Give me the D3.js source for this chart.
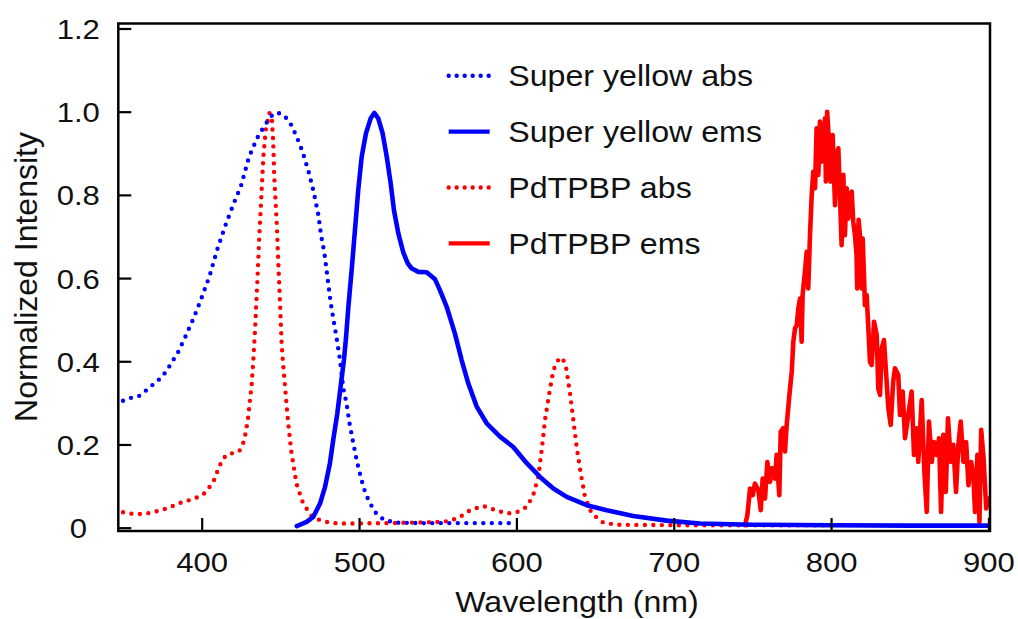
<!DOCTYPE html>
<html>
<head>
<meta charset="utf-8">
<script src="https://d3js.org/d3.v7.min.js"></script>
<style>
  body { margin: 0; background: #fff; }
  text { font-family: "Liberation Sans", Arial, sans-serif; fill: #111; }
</style>
</head>
<body>
<div id="chart"></div>
<script>
// ---- data: [wavelength nm, normalized intensity] ----
var syAbs = [[350,0.305],[355,0.312],[360,0.316],[365,0.331],[370,0.347],[375,0.363],[380,0.391],
  [385,0.422],[390,0.462],[395,0.505],[400,0.553],[405,0.605],[410,0.670],[415,0.726],[420,0.776],
  [425,0.822],[430,0.890],[435,0.935],[440,0.967],[445,0.993],[448,0.998],[452,0.992],[456,0.975],
  [460,0.943],[464,0.905],[468,0.855],[471,0.810],[474,0.755],[476,0.700],[478,0.660],[480,0.600],
  [482,0.540],[484,0.495],[486,0.450],[488,0.400],[490,0.335],[492,0.300],[494,0.250],[496,0.210],
  [498.5,0.162],[500.5,0.131],[503,0.095],[506,0.066],[510,0.038],[516,0.018],[525,0.012],
  [540,0.011],[560,0.011],[580,0.011],[598,0.011]];

var syEms = [[460.4,0.004],[463,0.008],[466.7,0.014],[470.9,0.026],[475.2,0.058],[478.4,0.098],
  [481.5,0.155],[483.6,0.211],[486.2,0.275],[488.3,0.339],[490.4,0.403],[491.8,0.460],[493.2,0.530],
  [495.3,0.619],[497.4,0.715],[499.5,0.812],[501.7,0.892],[504.4,0.948],[507.4,0.984],[509.7,0.997],
  [512.2,0.984],[515,0.948],[517.6,0.892],[520.1,0.828],[522.2,0.763],[525,0.707],[528.1,0.662],
  [531,0.635],[533.5,0.623],[537.7,0.615],[543,0.614],[548.3,0.597],[551.4,0.571],[555.7,0.531],
  [560.9,0.467],[565.2,0.403],[569.4,0.347],[574.8,0.291],[581.1,0.251],[589.6,0.219],[598,0.194],
  [606.6,0.155],[615,0.122],[623.5,0.094],[632,0.074],[644.7,0.054],[657.4,0.042],[674.3,0.028],
  [695.5,0.017],[716.7,0.010],[750,0.007],[800,0.006],[850,0.005],[900,0.005]];

var pdAbs = [[350,0.037],[356.5,0.033],[360.8,0.033],[365,0.034],[369.7,0.038],[374.6,0.042],
  [378.8,0.048],[383,0.054],[387.3,0.061],[392.1,0.066],[396.4,0.072],[400.6,0.078],[404.2,0.094],
  [407.4,0.110],[409.5,0.131],[412.7,0.160],[415.9,0.176],[419.7,0.179],[423.9,0.184],[426.1,0.200],
  [427.5,0.219],[428.6,0.243],[429.6,0.267],[430.7,0.307],[431.8,0.345],[432.8,0.403],[433.9,0.475],
  [435.3,0.587],[436.6,0.699],[437.9,0.795],[439.2,0.892],[440.7,0.956],[443,0.997],[444.5,0.988],
  [445.5,0.924],[446.1,0.844],[447.7,0.731],[448.7,0.635],[449.8,0.539],[450.8,0.443],[451.6,0.400],
  [452.8,0.347],[454.5,0.270],[456.8,0.187],[460.2,0.106],[464.5,0.058],[469.9,0.028],[476.3,0.016],
  [483.6,0.011],[492,0.010],[520,0.011],[553.6,0.014],[558.9,0.018],[564.2,0.026],[571,0.043],
  [579,0.052],[585.3,0.044],[593.8,0.034],[600.2,0.037],[606.6,0.050],[610.7,0.078],[613.9,0.122],
  [616.1,0.187],[618.2,0.259],[620.9,0.323],[623.5,0.379],[626.6,0.403],[629.2,0.409],[631.5,0.387],
  [634.1,0.323],[636.2,0.259],[638.3,0.194],[640.9,0.131],[643.6,0.074],[647.9,0.034],[655.3,0.012],
  [663.8,0.007],[700,0.006],[750,0.006],[800,0.006]];

var pdEms = [[745.3,0.006],[746.8,0.030],[748.5,0.094],[750.2,0.078],[751.6,0.106],[753.8,0.090],
  [755.3,0.042],[756.5,0.118],[758,0.070],[759.5,0.158],[761.2,0.110],[762.6,0.143],[764.4,0.118],
  [765.4,0.175],[767.1,0.078],[768,0.231],[769.6,0.239],[770.7,0.183],[771.8,0.247],[773.5,0.319],
  [775,0.375],[776,0.447],[777.1,0.479],[778.2,0.487],[779.2,0.527],[780.3,0.551],[781.3,0.447],
  [781.9,0.559],[783.4,0.615],[784.5,0.663],[785.5,0.575],[786.6,0.703],[787.7,0.800],[788.7,0.856],
  [789.8,0.816],[790.8,0.960],[791.9,0.848],[792.9,0.976],[794,0.880],[795,0.920],[796.1,0.984],
  [796.7,0.832],[797.5,1.000],[798.8,0.920],[799.7,0.832],[801,0.944],[802.5,0.775],[803.5,0.896],
  [804.6,0.912],[805.7,0.792],[806.7,0.679],[807.8,0.848],[808.8,0.703],[809.9,0.816],[810.9,0.743],
  [812,0.800],[813.1,0.808],[814.1,0.735],[815.2,0.703],[816.2,0.655],[816.6,0.575],[817.5,0.740],
  [818.4,0.700],[819.5,0.575],[820.1,0.695],[820.9,0.607],[821.5,0.535],[822.6,0.559],[823.7,0.479],
  [824.7,0.399],[825.8,0.391],[827.3,0.495],[829,0.463],[830,0.335],[831.1,0.319],[832.2,0.431],
  [833.6,0.451],[834.9,0.375],[836.4,0.287],[837.9,0.247],[839.5,0.351],[840.6,0.383],[842.7,0.367],
  [843.8,0.271],[845.5,0.327],[847,0.215],[849.1,0.271],[851.2,0.327],[852.7,0.175],[854.4,0.239],
  [855.4,0.158],[857.6,0.307],[859.3,0.134],[860.8,0.038],[862.2,0.255],[864,0.158],[865.4,0.206],
  [867.1,0.175],[868.6,0.215],[869.9,0.038],[871.3,0.223],[872.9,0.086],[874.3,0.263],[876.1,0.158],
  [877.7,0.199],[879.4,0.086],[880.9,0.199],[882.4,0.255],[884.1,0.158],[885.8,0.206],[887.3,0.102],
  [889,0.158],[890.4,0.126],[891.5,0.038],[893,0.175],[894.3,0.014],[895.4,0.235],[896.9,0.167],
  [898.6,0.046],[900.1,0.070]];

var xTicks = [400, 500, 600, 700, 800, 900];
var yTicks = [0, 0.2, 0.4, 0.6, 0.8, 1.0, 1.2];
var seriesNames = ["Super yellow abs", "Super yellow ems", "PdTPBP abs", "PdTPBP ems"];

// ---- layout ----
var W = 1018, H = 619;
var margin = {top: 23.5, right: 28, bottom: 88, left: 118.3},
    width = 990 - margin.left,
    height = 531 - margin.top;

var svg = d3.select("#chart").append("svg")
    .attr("width", W).attr("height", H)
  .append("g")
    .attr("transform", "translate(" + margin.left + "," + margin.top + ")");

var x = d3.scaleLinear().domain([347, 901]).range([0, width]);
var y = d3.scaleLinear().domain([-0.008, 1.212]).range([height, 0]);

// stretch text a little wider, the picture's glyphs are wider than tall
function stretch(sel, k) {
  sel.each(function() {
    var w = this.getComputedTextLength();
    this.setAttribute("textLength", w * k);
    this.setAttribute("lengthAdjust", "spacingAndGlyphs");
  });
}

// clip
svg.append("clipPath").attr("id", "clip")
  .append("rect").attr("width", width).attr("height", height);

var line = d3.line()
    .x(function(d) { return x(d[0]); })
    .y(function(d) { return y(d[1]); });

var plot = svg.append("g").attr("clip-path", "url(#clip)");

var series = [
  {data: pdAbs, color: "#ff0000", dotted: true},
  {data: syAbs, color: "#0000ff", dotted: true},
  {data: pdEms, color: "#ff0000", dotted: false},
  {data: syEms, color: "#0000ff", dotted: false}
];

series.forEach(function(s) {
  plot.append("path")
    .datum(s.data)
    .attr("d", line)
    .attr("fill", "none")
    .attr("stroke", s.color)
    .attr("stroke-width", s.dotted ? 4.4 : 4.6)
    .attr("stroke-linejoin", "round")
    .attr("stroke-linecap", "round")
    .attr("stroke-dasharray", s.dotted ? "0 8.5" : null);
});

// Y axis
var yAxis = svg.append("g")
  .call(d3.axisLeft(y)
    .tickValues(yTicks)
    .tickSize(-13)
    .tickSizeOuter(0)
    .tickFormat(function(d) { return d === 0 ? "0" : d.toFixed(1); }));
yAxis.select(".domain").remove();
yAxis.selectAll(".tick line").attr("stroke", "#000").attr("stroke-width", 2.2);
yAxis.selectAll(".tick text")
  .attr("x", -40).attr("dy", "0.35em")
  .attr("text-anchor", "middle")
  .style("font-size", "28.5px");
stretch(yAxis.selectAll(".tick text"), 1.09);

// X axis
var xAxis = svg.append("g")
  .attr("transform", "translate(0," + height + ")")
  .call(d3.axisBottom(x)
    .tickValues(xTicks)
    .tickSize(-13)
    .tickSizeOuter(0));
xAxis.select(".domain").remove();
xAxis.selectAll(".tick line").attr("stroke", "#000").attr("stroke-width", 2.2);
xAxis.selectAll(".tick text")
  .attr("y", 41).attr("dy", 0)
  .style("font-size", "28.5px");
stretch(xAxis.selectAll(".tick text"), 1.09);

// frame
svg.append("rect")
  .attr("width", width).attr("height", height)
  .attr("fill", "none").attr("stroke", "#000").attr("stroke-width", 2.5);

// axis titles
var xt = svg.append("text")
  .attr("x", (455 + 699) / 2 - margin.left)
  .attr("y", 612 - margin.top)
  .attr("text-anchor", "middle")
  .style("font-size", "29.5px")
  .text("Wavelength (nm)");
stretch(xt, 1.09);

svg.append("text")
  .attr("transform", "translate(" + (37 - margin.left) + "," + (277 - margin.top) + ") rotate(-90)")
  .attr("text-anchor", "middle")
  .style("font-size", "32px")
  .text("Normalized Intensity");

// legend
var legendStyles = [
  {color: "#0000ff", dotted: true},
  {color: "#0000ff", dotted: false},
  {color: "#ff0000", dotted: true},
  {color: "#ff0000", dotted: false}
];
var legend = svg.append("g")
  .attr("transform", "translate(" + (446.7 - margin.left) + "," + (75.7 - margin.top) + ")");

seriesNames.forEach(function(name, i) {
  var g = legend.append("g").attr("transform", "translate(0," + (i * 55.9) + ")");
  g.append("line")
    .attr("x1", 2).attr("x2", 43)
    .attr("stroke", legendStyles[i].color)
    .attr("stroke-width", 4.4)
    .attr("stroke-linecap", legendStyles[i].dotted ? "round" : "butt")
    .attr("stroke-dasharray", legendStyles[i].dotted ? "0 8" : null);
  var t = g.append("text")
    .attr("x", 61.5).attr("y", 10.3)
    .style("font-size", "29.5px")
    .text(name);
  stretch(t, 1.09);
});
</script>
</body>
</html>
